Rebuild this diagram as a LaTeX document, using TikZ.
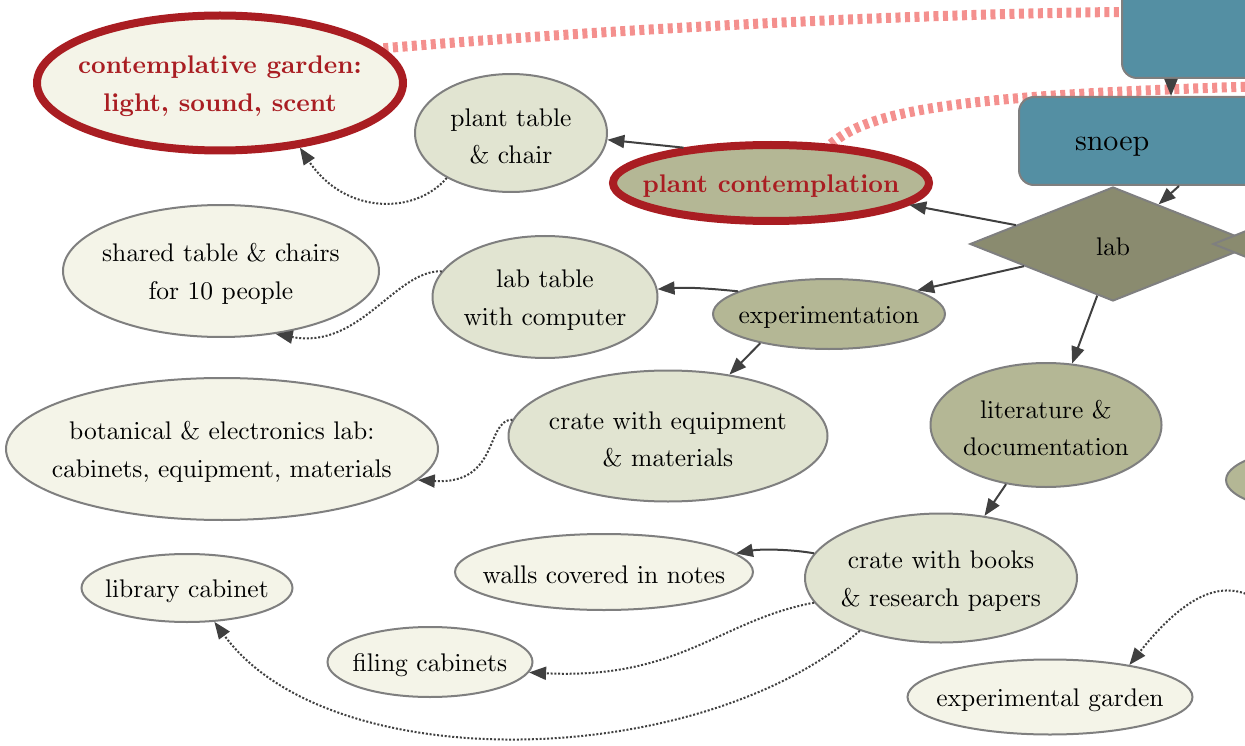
\documentclass[tikz,border=0pt]{standalone}
\usetikzlibrary{shapes.geometric,arrows.meta,backgrounds}
\definecolor{creamc}{HTML}{F4F4E8}
\definecolor{sagec}{HTML}{E1E4D1}
\definecolor{olivec}{HTML}{B4B795}
\definecolor{diac}{HTML}{8A8B6F}
\definecolor{bluec}{HTML}{548FA3}
\definecolor{redc}{HTML}{A91D22}
\definecolor{pinkc}{HTML}{F4908E}
\definecolor{grayc}{HTML}{7F7F7F}
\definecolor{edgec}{HTML}{404040}
\font\nrmfont=cmr10 at 25.5pt
\font\nbffont=cmbx10 at 25.5pt
\font\nsnfont=cmr10 at 30pt
\newcommand\nfont{\nrmfont\baselineskip=37.5pt\relax}
\newcommand\nbold{\nbffont\baselineskip=37.5pt\relax}
\newcommand\mk[1]{\raisebox{-3pt}[\height][\depth]{\makebox[0pt]{#1}}}
\tikzset{
  base/.style={draw=grayc, line width=2pt, inner sep=0pt, font=\nfont, align=center},
  cream/.style={base, ellipse, fill=creamc},
  sage/.style={base, ellipse, fill=sagec},
  olive/.style={base, ellipse, fill=olivec},
  hot/.style={ellipse, draw=redc, line width=8pt, inner sep=0pt, font=\nbold, text=redc, align=center},
  dia/.style={base, diamond, fill=diac, minimum width=286pt, minimum height=114pt},
  bluebox/.style={base, rectangle, rounded corners=15pt, fill=bluec},
  edge/.style={draw=edgec, line width=2pt, -{Triangle[length=17pt,width=13pt]}},
  dotedge/.style={edge, dash pattern=on 2pt off 1.8pt},
  pinkedge/.style={draw=pinkc, line width=10pt, dash pattern=on 5pt off 4.5pt},
}
\begin{document}
\begin{tikzpicture}[x=1pt,y=-1pt]
\useasboundingbox (0,0) rectangle (1245,746);
% nodes
\node[hot, fill=creamc, minimum width=366pt, minimum height=135pt] (garden) at (220,83) {\mk{contemplative garden:}\\\mk{light, sound, scent}};
\node[sage, minimum width=192pt, minimum height=118pt] (pt) at (511,133) {\mk{plant table}\\\mk{\& chair}};
\node[hot, fill=olivec, minimum width=316pt, minimum height=76pt] (pc) at (771,183) {\mk{plant contemplation}};
\node[bluebox, minimum width=300pt, minimum height=132pt] (top) at (1272,12) {};
\node[bluebox, minimum width=300pt, minimum height=88pt, text width=188pt, inner xsep=56pt, align=left, text height=26pt, text depth=6pt, font=\nsnfont] (snoep) at (1169,141) {snoep};
\node[dia] (lab) at (1113,244) {\mk{lab}};
\node[dia] (dia2) at (1356,244) {};
\node[olive, minimum width=232pt, minimum height=70pt] (exp) at (829,314) {\mk{experimentation}};
\node[sage, minimum width=225pt, minimum height=122pt] (lt) at (545,297) {\mk{lab table}\\\mk{with computer}};
\node[cream, minimum width=316pt, minimum height=132pt] (shared) at (221,271) {\mk{shared table \& chairs}\\\mk{for 10 people}};
\node[sage, minimum width=319pt, minimum height=131pt] (ce) at (668,436) {\mk{crate with equipment}\\\mk{\& materials}};
\node[cream, minimum width=432pt, minimum height=142pt] (bot) at (222,449) {\mk{botanical \& electronics lab:}\\\mk{cabinets, equipment, materials}};
\node[olive, minimum width=231pt, minimum height=124pt] (lit) at (1046,425) {\mk{literature \&}\\\mk{documentation}};
\node[olive, minimum width=232pt, minimum height=70pt] (part) at (1342,480) {};
\node[sage, minimum width=272pt, minimum height=129pt] (cb) at (941,578) {\mk{crate with books}\\\mk{\& research papers}};
\node[cream, minimum width=298pt, minimum height=76pt] (walls) at (604,572) {\mk{walls covered in notes}};
\node[cream, minimum width=211pt, minimum height=68pt] (lib) at (187,588) {\mk{library cabinet}};
\node[cream, minimum width=205pt, minimum height=70pt] (fil) at (430,662) {\mk{filing cabinets}};
\node[cream, minimum width=285pt, minimum height=75pt] (eg) at (1050,697) {\mk{experimental garden}};
\coordinate (offr) at (1262,603);
\coordinate (offp) at (1270,86);
% pink connectors
\begin{pgfonlayer}{background}
\draw[pinkedge] (garden.12) .. controls (600,30) and (900,14) .. (top.west);
\draw[pinkedge] (pc.33) .. controls (870,110) and (960,95) .. (offp);
\end{pgfonlayer}
% solid connectors
\draw[edge] ([xshift=50pt]top.south west) -- ([xshift=153pt]snoep.north west);
\draw[edge] ([xshift=161pt]snoep.south west) -- (lab.41);
\draw[edge] (lab.169) -- (pc.-9);
\draw[edge] (pc.158) -- (pt.-4);
\draw[edge] (lab.194) -- (exp.15);
\draw[edge] (exp.166) .. controls (715,289) and (690,287) .. (lt.4);
\draw[edge] (exp.203) -- (ce.45);
\draw[edge] (lab.253) -- (lit.67);
\draw[edge] (lit.236) -- (cb.55);
\draw[edge] (cb.169) .. controls (790,549) and (760,549) .. (walls.8);
% dotted connectors
\draw[dotedge] (pt.215) .. controls (415,215) and (345,215) .. (garden.-39);
\draw[dotedge] (lt.166) .. controls (395,270) and (360,350) .. (shared.-49);
\draw[dotedge] (ce.174) .. controls (485,420) and (500,485) .. (bot.-9);
\draw[dotedge] (cb.191) .. controls (720,620) and (680,680) .. (fil.-6);
\draw[dotedge] (cb.213) .. controls (700,770) and (330,780) .. (lib.-51);
\draw[dotedge] (offr) .. controls (1225,575) and (1185,595) .. (eg.22);
\end{tikzpicture}
\end{document}
